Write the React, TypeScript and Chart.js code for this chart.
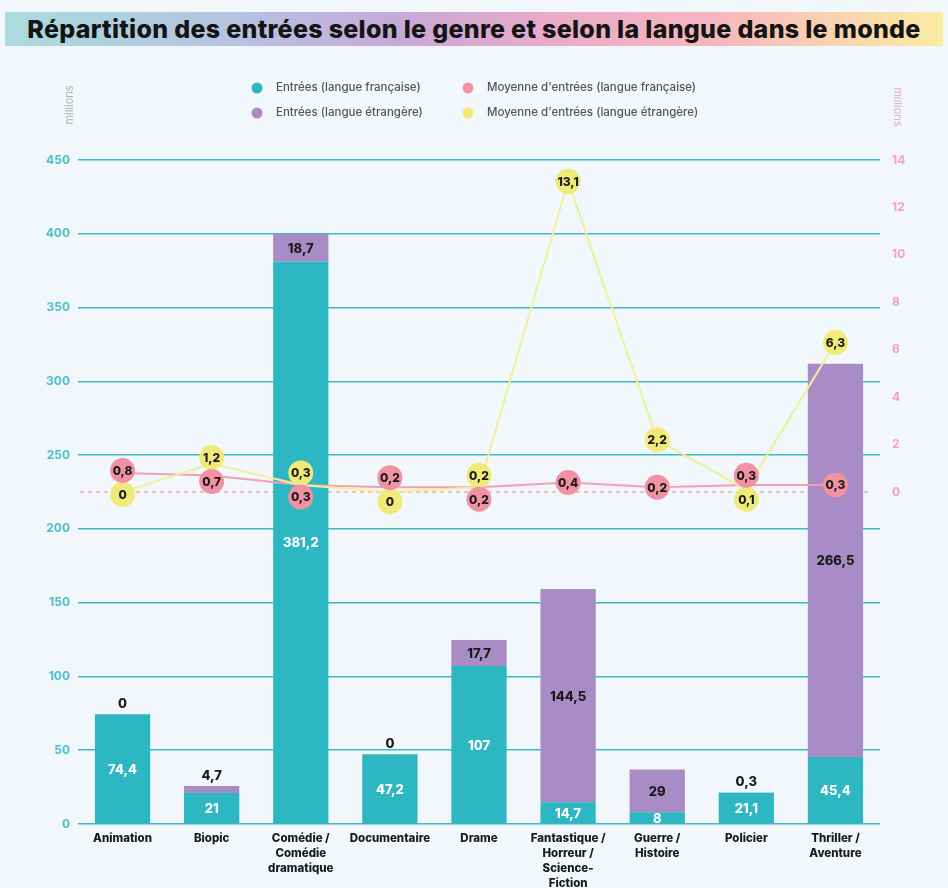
import React, { useEffect, useRef } from "react";
import { Chart, registerables } from "chart.js";

Chart.register(...registerables);

const categories: string[][] = [
  ["Animation"],
  ["Biopic"],
  ["Comédie /", "Comédie", "dramatique"],
  ["Documentaire"],
  ["Drame"],
  ["Fantastique /", "Horreur /", "Science-", "Fiction"],
  ["Guerre /", "Histoire"],
  ["Policier"],
  ["Thriller /", "Aventure"],
];
const entreesFr = [74.4, 21, 381.2, 47.2, 107, 14.7, 8, 21.1, 45.4];
const entreesEtr = [0, 4.7, 18.7, 0, 17.7, 144.5, 29, 0.3, 266.5];
const moyenneFr = [0.8, 0.7, 0.3, 0.2, 0.2, 0.4, 0.2, 0.3, 0.3];
const moyenneEtr = [0, 1.2, 0.3, 0, 0.2, 13.1, 2.2, 0.1, 6.3];
const legendLabels = [
  "Entrées (langue française)",
  "Moyenne d'entrées (langue française)",
  "Entrées (langue étrangère)",
  "Moyenne d'entrées (langue étrangère)",
];
const titleText = "Répartition des entrées selon le genre et selon la langue dans le monde";
const unitLabel = "millions";

const TEAL = "#2DB7C2";
const PURPLE = "#A98CC6";
const PINK = "#F092A4";
const YELLOW = "#F0EB78";
const FONT = "Inter, 'Open Sans', sans-serif";

const fmt = (v: number) => String(v).replace(".", ",");

const overlay = {
  id: "overlay",
  beforeDraw(chart: any) {
    const { ctx, width, height } = chart;
    ctx.save();
    ctx.fillStyle = "#F1F7FA";
    ctx.fillRect(0, 0, width, height);
    ctx.restore();
  },
  beforeDatasetsDraw(chart: any) {
    const { ctx, chartArea, scales } = chart;
    const y0 = scales.y2.getPixelForValue(0);
    ctx.save();
    ctx.strokeStyle = "#F3A9B8";
    ctx.lineWidth = 1.5;
    ctx.setLineDash([4, 4]);
    ctx.beginPath();
    ctx.moveTo(chartArea.left + 2, y0);
    ctx.lineTo(chartArea.right - 8, y0);
    ctx.stroke();
    ctx.restore();
  },
  afterDatasetsDraw(chart: any) {
    const { ctx, scales } = chart;
    ctx.save();
    ctx.textAlign = "center";
    ctx.textBaseline = "middle";
    ctx.font = `800 13px ${FONT}`;
    const m0 = chart.getDatasetMeta(0);
    const m1 = chart.getDatasetMeta(1);
    m0.data.forEach((bar: any, i: number) => {
      const p = bar.getProps(["x", "y", "base"], true);
      ctx.fillStyle = "#FFFFFF";
      ctx.fillText(fmt(entreesFr[i]), p.x, (p.y + p.base) / 2 + 1);
    });
    m1.data.forEach((bar: any, i: number) => {
      const p = bar.getProps(["x", "y", "base"], true);
      const h = Math.abs(p.base - p.y);
      ctx.fillStyle = "#1A1A1A";
      if (h < 16) {
        ctx.fillText(fmt(entreesEtr[i]), p.x, Math.min(p.y, p.base) - 10);
      } else {
        ctx.fillText(fmt(entreesEtr[i]), p.x, (p.y + p.base) / 2 + 1);
      }
    });

    // value circles for the averages
    const y2 = scales.y2;
    const xs = scales.x;
    const R = 12.5;
    const SEP = 24;
    ctx.font = `800 12px ${FONT}`;
    for (let i = 0; i < categories.length; i++) {
      const x = xs.getPixelForValue(i);
      let yp = y2.getPixelForValue(moyenneFr[i]);
      let yy = y2.getPixelForValue(moyenneEtr[i]);
      if (Math.abs(yp - yy) < SEP) {
        const mid = (yp + yy) / 2;
        if (moyenneEtr[i] >= moyenneFr[i]) {
          yy = mid - SEP / 2;
          yp = mid + SEP / 2;
        } else {
          yp = mid - SEP / 2;
          yy = mid + SEP / 2;
        }
      }
      const drawC = (y: number, col: string, v: number) => {
        ctx.fillStyle = col;
        ctx.beginPath();
        ctx.arc(x, y, R, 0, Math.PI * 2);
        ctx.fill();
        ctx.fillStyle = "#1A1A1A";
        ctx.fillText(fmt(v), x, y + 1);
      };
      drawC(yy, YELLOW, moyenneEtr[i]);
      drawC(yp, PINK, moyenneFr[i]);
    }
    ctx.restore();
  },
  afterDraw(chart: any) {
    const { ctx, chartArea } = chart;
    ctx.save();
    // legend
    const colors = [TEAL, PINK, PURPLE, YELLOW];
    const pos = [
      [257, 88],
      [468, 88],
      [257, 113],
      [468, 113],
    ];
    ctx.font = `500 11.5px ${FONT}`;
    ctx.textBaseline = "middle";
    ctx.textAlign = "left";
    legendLabels.forEach((t, i) => {
      const [x, y] = pos[i];
      ctx.fillStyle = colors[i];
      ctx.beginPath();
      ctx.arc(x, y, 5.5, 0, Math.PI * 2);
      ctx.fill();
      ctx.fillStyle = "#555555";
      ctx.fillText(t, x + 19, y);
    });
    // unit labels
    ctx.font = `11px ${FONT}`;
    ctx.textAlign = "center";
    ctx.save();
    ctx.translate(chartArea.left - 8, 105);
    ctx.rotate(-Math.PI / 2);
    ctx.fillStyle = "#A9B4BA";
    ctx.fillText(unitLabel, 0, 0);
    ctx.restore();
    ctx.save();
    ctx.translate(chartArea.right + 17, 107);
    ctx.rotate(Math.PI / 2);
    ctx.fillStyle = "#E0B3BF";
    ctx.fillText(unitLabel, 0, 0);
    ctx.restore();
    ctx.restore();
  },
};

export default function App() {
  const ref = useRef<HTMLCanvasElement | null>(null);
  useEffect(() => {
    if (!ref.current) return;
    const chart = new Chart(ref.current, {
      type: "bar",
      data: {
        labels: categories as any,
        datasets: [
          {
            type: "bar",
            label: legendLabels[0],
            data: entreesFr,
            backgroundColor: TEAL,
            stack: "s",
            order: 2,
            yAxisID: "y",
            barPercentage: 0.62,
            categoryPercentage: 1,
          },
          {
            type: "bar",
            label: legendLabels[2],
            data: entreesEtr,
            backgroundColor: PURPLE,
            stack: "s",
            order: 2,
            yAxisID: "y",
            barPercentage: 0.62,
            categoryPercentage: 1,
          },
          {
            type: "line",
            label: legendLabels[1],
            data: moyenneFr,
            borderColor: "#F2A2B2",
            borderWidth: 2,
            pointRadius: 0,
            yAxisID: "y2",
            order: 1,
          } as any,
          {
            type: "line",
            label: legendLabels[3],
            data: moyenneEtr,
            borderColor: "#F1EE9C",
            borderWidth: 2,
            pointRadius: 0,
            yAxisID: "y2",
            order: 0,
          } as any,
        ],
      },
      options: {
        animation: false,
        responsive: false,
        maintainAspectRatio: false,
        layout: { padding: { top: 160, left: 0, right: 0, bottom: 0 } },
        plugins: {
          legend: { display: false },
          tooltip: { enabled: false },
          title: { display: false },
        },
        scales: {
          x: {
            stacked: true,
            grid: { display: false, drawTicks: false },
            border: { display: false },
            ticks: {
              color: "#1A1A1A",
              font: { family: FONT, size: 11.5, weight: "800", lineHeight: 1.3 },
              padding: 7,
              maxRotation: 0,
              autoSkip: false,
            },
            afterFit: (s: any) => {
              s.height = 64;
            },
          },
          y: {
            stacked: true,
            position: "left",
            min: 0,
            max: 450,
            grid: { color: "#3DBAC5", lineWidth: 1.5, drawTicks: false },
            border: { display: false },
            ticks: {
              stepSize: 50,
              color: "#4CC0C9",
              font: { family: FONT, size: 12, weight: "bold" },
              padding: 8,
            },
            afterFit: (s: any) => {
              s.width = 78;
            },
          },
          y2: {
            position: "right",
            min: -14,
            max: 14,
            grid: { display: false, drawTicks: false },
            border: { display: false },
            ticks: {
              stepSize: 2,
              color: "#F2A3B4",
              font: { family: FONT, size: 12, weight: "bold" },
              padding: 12,
              callback: (v: any) => (Number(v) >= 0 ? String(v) : ""),
            },
            afterFit: (s: any) => {
              s.width = 68;
            },
          },
        },
      } as any,
      plugins: [overlay],
    });
    return () => chart.destroy();
  }, []);

  return (
    <div style={{ position: "fixed", left: 0, top: 0, width: 948, height: 888, background: "#F1F7FA" }}>
      <canvas ref={ref} width={948} height={888} style={{ position: "absolute", left: 0, top: 0 }} />
      <div
        style={{
          position: "absolute",
          left: 5,
          right: 5,
          top: 12,
          height: 34,
          background:
            "linear-gradient(90deg, #A9DCDC 0%, #B6C2E2 25%, #C7A9D8 42%, #E8ABC8 58%, #F5B5C0 75%, #F9D2B0 88%, #FCEBA2 100%)",
          display: "flex",
          alignItems: "center",
          justifyContent: "center",
          fontFamily: FONT,
          fontWeight: 800,
          fontSize: 25,
          color: "#141414",
          letterSpacing: 0.3,
          whiteSpace: "nowrap",
        }}
      >
        {titleText}
      </div>
    </div>
  );
}
